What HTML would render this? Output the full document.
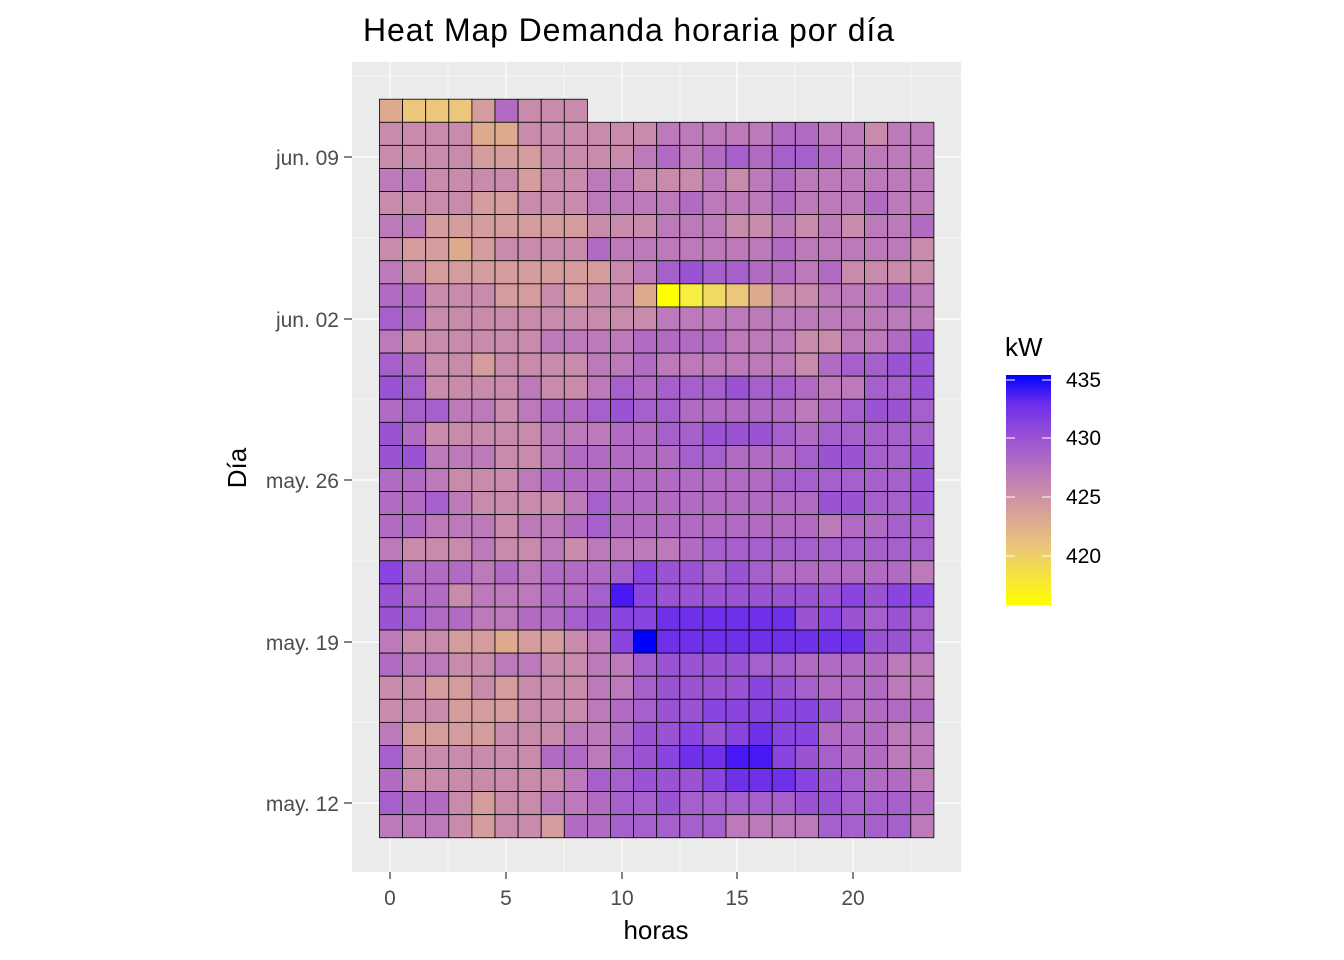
<!DOCTYPE html>
<html><head><meta charset="utf-8"><style>body{margin:0;background:#fff}svg{display:block;font-family:"Liberation Sans",Arial,sans-serif}</style></head>
<body>
<svg id="s" width="1344" height="960" xmlns="http://www.w3.org/2000/svg">
<defs><linearGradient id="lg" x1="0" y1="0" x2="0" y2="1">
<stop offset="0" stop-color="#0000FF"/><stop offset="0.12" stop-color="#6A2CEC"/><stop offset="0.28" stop-color="#9C54D4"/><stop offset="0.52" stop-color="#CC90A8"/><stop offset="0.75" stop-color="#ECC67A"/><stop offset="1" stop-color="#FFFF00"/></linearGradient></defs>
<rect x="352" y="62" width="609" height="810" fill="#EBEBEB"/>
<g id="grid"></g>
<g id="cells"></g>
<text x="363" y="41" style="font-size:32px" fill="#000" textLength="531">Heat Map Demanda horaria por día</text>
<g style="font-size:21px" fill="#4D4D4D" text-anchor="end">
<text x="339" y="165">jun. 09</text><text x="339" y="327">jun. 02</text><text x="339" y="488">may. 26</text><text x="339" y="650">may. 19</text><text x="339" y="811">may. 12</text></g>
<g stroke="#333" stroke-width="1.2"><line x1="344" x2="352" y1="157" y2="157"/><line x1="344" x2="352" y1="319" y2="319"/><line x1="344" x2="352" y1="480" y2="480"/><line x1="344" x2="352" y1="642" y2="642"/><line x1="344" x2="352" y1="803" y2="803"/>
<line y1="872" y2="879" x1="390" x2="390"/><line y1="872" y2="879" x1="506" x2="506"/><line y1="872" y2="879" x1="622" x2="622"/><line y1="872" y2="879" x1="737" x2="737"/><line y1="872" y2="879" x1="853" x2="853"/></g>
<g style="font-size:21px" fill="#4D4D4D" text-anchor="middle"><text x="390" y="905">0</text><text x="506" y="905">5</text><text x="622" y="905">10</text><text x="737" y="905">15</text><text x="853" y="905">20</text></g>
<text x="656" y="939" style="font-size:26px" text-anchor="middle">horas</text>
<text transform="translate(246,468) rotate(-90)" style="font-size:26px" text-anchor="middle">Día</text>
<text x="1005" y="356" style="font-size:26px">kW</text>
<rect x="1006" y="375" width="45" height="230" fill="url(#lg)"/>
<g stroke="#fff" stroke-width="1"><line x1="1006" x2="1015" y1="380" y2="380"/><line x1="1042" x2="1051" y1="380" y2="380"/><line x1="1006" x2="1015" y1="438" y2="438"/><line x1="1042" x2="1051" y1="438" y2="438"/><line x1="1006" x2="1015" y1="497" y2="497"/><line x1="1042" x2="1051" y1="497" y2="497"/><line x1="1006" x2="1015" y1="556" y2="556"/><line x1="1042" x2="1051" y1="556" y2="556"/></g>
<g style="font-size:21px" fill="#000"><text x="1066" y="387">435</text><text x="1066" y="445">430</text><text x="1066" y="504">425</text><text x="1066" y="563">420</text></g>
</svg>
<script>
var P={Y:"#FFFF00",y:"#F8EE40",z:"#F2DA62",o:"#ECC67A",P:"#DEAA8E",p:"#D49C9C",q:"#C98BAC",m:"#BD7ABA",v:"#B26BC3",V:"#A660CB",W:"#9A54D3",b:"#8A44DF",B:"#6E30E9",X:"#4A18F6",Z:"#0000FF"};
var R=["Pooopvqqq",
"qqqqPPqqqqqqmmmmmvvmmqmm",
"qqqqpppqqqqmvmvVvVVvmmmm",
"mmqqqqpqqmmqqqmqmvmmmmmm",
"qqqqppqqqmmmmvmmmvmmmvmm",
"mmpppppppqqqmmmqqmqmqmmv",
"qppPpqqqqvmmmmmmmvmmmmmq",
"mqppppppppqmVWVVvvmvqqqq",
"vvqqqppqpqqPYyzoPqqmmmvm",
"Vvqqqqqqqqqqmmmmmmmmmmmm",
"mqqqqqqmmmmvvvvmmmqqmmvW",
"VvqqpqqqqmmvmmmmmmqvVVWW",
"WVqqqqmqqmVvVVVWVVvmmVVW",
"vVVmmqmvvVWVVvvvvvmvVWWV",
"WvqqqqqmmmvvVVWWWVvVVVVV",
"WWmmmqqmvvvvvVVvvvVWWVVW",
"vvmqqqmvvvvvvvvvvVVVVVVW",
"vvVmqqqqmVvvvvvvvvvWWVVW",
"vvmmmqmmvVvvvvvvvvvmvvVV",
"mqqqmqqmqmmmmvVVVVVVVVVV",
"bvvvmvmvvvVbWWVWVvvvvvvm",
"WvvqmmmvvVXbWWWWWWWWbWbb",
"WVvvmmvvVWbbBBBBBBWbWVWV",
"mqqppPppqmbZBBBBBBBBBWWV",
"vmmqqmmqqmmVWWWWVVvvvvmm",
"qqppqpqqqmmVWWWWbWVvvvmm",
"qqqpppqqqmvVWWbbbbbWvvvv",
"mppppqqqmmvWWbWbBbbvvvmm",
"VqqqqqqvvmVWbBBXXbWVvvmm",
"vqqqqqqqmVVWWWbBBBbWVvvm",
"VvvqpqqmmvVVWVVVVVWWVVVv",
"mmmqpqqpvvVVVVVmmmmVVVVm"];
var g=document.getElementById("cells"),gr=document.getElementById("grid"),h="";
function L(a,b,c,d,w){return '<line x1="'+a+'" y1="'+b+'" x2="'+c+'" y2="'+d+'" stroke="#fff" stroke-width="'+w+'"/>';}
[448,564,680,795,911].forEach(function(x){h+=L(x,62,x,872,0.6)});
[76,238,399,561,722].forEach(function(y){h+=L(352,y,961,y,0.6)});
[390,506,622,737,853].forEach(function(x){h+=L(x,62,x,872,1.3)});
[157,319,480,642,803].forEach(function(y){h+=L(352,y,961,y,1.3)});
gr.innerHTML=h;h="";
var x0=379.5,w=23.1,y0=99.2,hh=23.08;
R.forEach(function(r,i){for(var j=0;j<r.length;j++){h+='<rect x="'+(x0+j*w).toFixed(2)+'" y="'+(y0+i*hh).toFixed(2)+'" width="'+w+'" height="'+hh+'" fill="'+P[r[j]]+'" stroke="#000" stroke-width="0.8"/>';}});
g.innerHTML=h;
</script>
</body></html>
